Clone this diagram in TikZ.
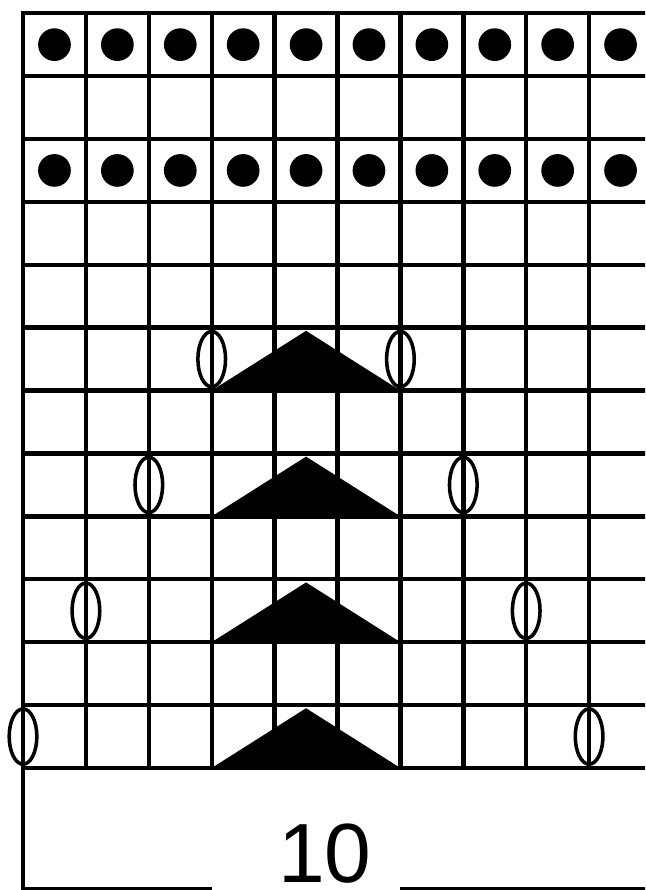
\documentclass[tikz,border=0pt]{standalone}
\usepackage{fontspec}
\setmainfont{Liberation Sans}
\begin{document}
\begin{tikzpicture}[
  gridline/.style={line width=2pt, line cap=rect},
  purl/.style={fill=black},
  dec/.style={fill=black},
  yo/.style={draw, line width=1.6pt, fill=white},
  dimline/.style={line width=2pt},
  count/.style={font=\fontsize{38}{40}\selectfont, inner sep=0pt, text depth=0pt, anchor=base}
]
\useasboundingbox (-0.366,-1.94) rectangle (9.89,12.21);
\clip (-0.366,-1.94) rectangle (9.89,12.21);

\draw[gridline] (0,0) grid (10,12);

\foreach \r in {9,11}
  \foreach \c in {0,...,9}
    \fill[purl] (\c+0.5,\r+0.5) circle (0.26);

\foreach \k in {0,...,3} {
  \pgfmathtruncatemacro{\r}{6-2*\k}
  \fill[dec] (3,\r) -- (4.5,\r+0.95) -- (6,\r) -- cycle;
  \foreach \x in {3-\k,6+\k} {
    \draw[yo] (\x,\r+0.5) ellipse (0.22 and 0.44);
    \draw[gridline] (\x,\r+0.06) -- (\x,\r+0.94);
  }
}

\coordinate (corner) at (0,0);
\coordinate (gapL) at (3.0,-1.93);
\coordinate (gapR) at (6.0,-1.93);
\coordinate (rightend) at (10,-1.93);
\node[count] (ten) at (4.8,-1.82) {10};
\draw[dimline] (corner) |- (gapL);
\draw[dimline] (gapR) -- (rightend);
\end{tikzpicture}
\end{document}
